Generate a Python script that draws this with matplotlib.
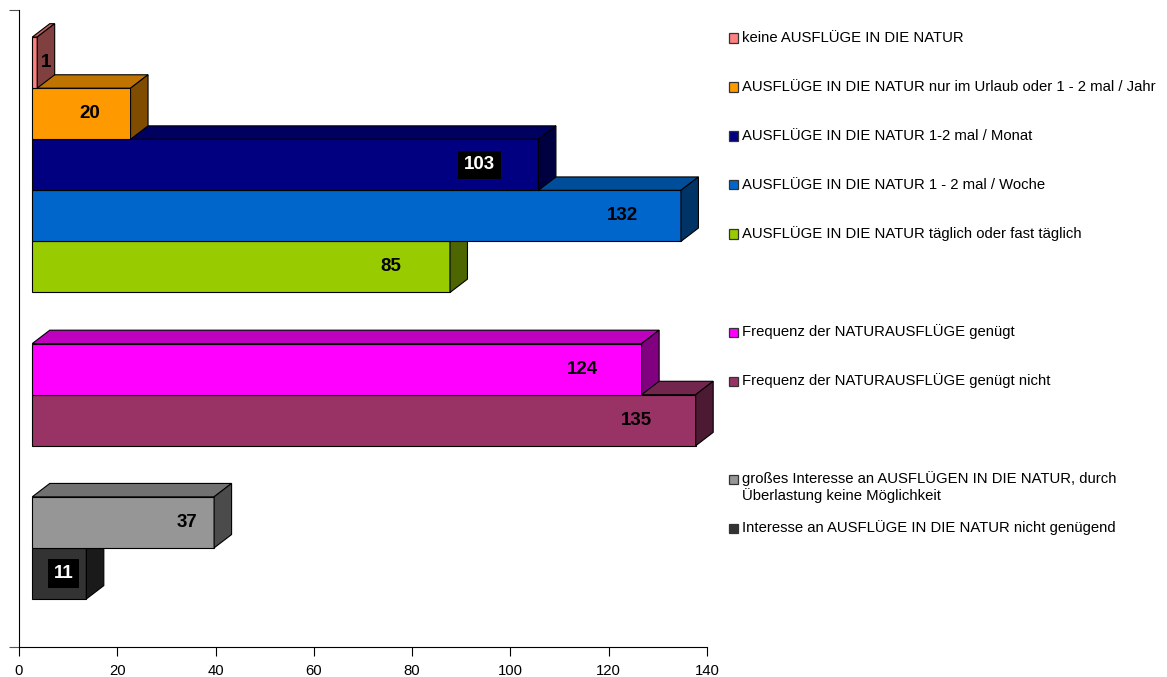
import matplotlib
matplotlib.use("Agg")
import matplotlib.pyplot as plt
import matplotlib.colors as mcolors
from matplotlib.patches import Polygon, Rectangle

# Survey answers on trips into nature
series_labels = [
    "keine AUSFLÜGE IN DIE NATUR",
    "AUSFLÜGE IN DIE NATUR nur im Urlaub oder 1 - 2 mal / Jahr",
    "AUSFLÜGE IN DIE NATUR 1-2 mal / Monat",
    "AUSFLÜGE IN DIE NATUR 1 - 2 mal / Woche",
    "AUSFLÜGE IN DIE NATUR täglich oder fast täglich",
    "Frequenz der NATURAUSFLÜGE genügt",
    "Frequenz der NATURAUSFLÜGE genügt nicht",
    "großes Interesse an AUSFLÜGEN IN DIE NATUR, durch\nÜberlastung keine Möglichkeit",
    "Interesse an AUSFLÜGE IN DIE NATUR nicht genügend",
]
values = [1, 20, 103, 132, 85, 124, 135, 37, 11]
face_colors = ["#FF8080", "#FF9900", "#000080", "#0066CC", "#99CC00",
               "#FF00FF", "#993366", "#969696", "#333333"]
group_sizes = [5, 2, 2]
x_ticks = [0, 20, 40, 60, 80, 100, 120, 140]

W, H = 1167, 677
plt.rcParams["font.family"] = ["Liberation Sans", "DejaVu Sans"]

fig = plt.figure(figsize=(W / 100, H / 100), dpi=100)
ax_l, ax_r, ax_t, ax_b = 19, 707, 10, 647
ax = fig.add_axes([ax_l / W, 1 - ax_b / H, (ax_r - ax_l) / W, (ax_b - ax_t) / H])

# one slot per bar, one empty slot between groups
slots = []
s = 0
for g in group_sizes:
    for _ in range(g):
        slots.append(s)
        s += 1
    s += 1
y_bottom = slots[-1] + 1.94
y_top = -0.53

ax.set_xlim(0, 140)
ax.set_ylim(y_bottom, y_top)

X0 = 2.7      # front face start
DX = 3.56     # depth, x direction (data units)
DY = 0.262    # depth, y direction (slots)


def shade(c, f):
    r, g, b = mcolors.to_rgb(c)
    return (r * f, g * f, b * f)


ekw = dict(edgecolor="black", linewidth=0.8, joinstyle="miter", clip_on=False)
n = len(values)
for rank, i in enumerate(range(n - 1, -1, -1)):
    v, c, y = values[i], face_colors[i], slots[i]
    z = 2 + rank * 0.1
    x1 = X0 + v
    front = Rectangle((X0, y), v, 1, facecolor=c, zorder=z, **ekw)
    top = Polygon([(X0, y), (x1, y), (x1 + DX, y - DY), (X0 + DX, y - DY)],
                  closed=True, facecolor=shade(c, 0.75), zorder=z, **ekw)
    side = Polygon([(x1, y), (x1, y + 1), (x1 + DX, y + 1 - DY), (x1 + DX, y - DY)],
                   closed=True, facecolor=shade(c, 0.5), zorder=z, **ekw)
    ax.add_patch(front)
    ax.add_patch(top)
    ax.add_patch(side)

# value labels, placed inside the bar end
for i, v in enumerate(values):
    if v < 5:
        lx = X0 + v + DX * 0.5
    elif v < 30:
        lx = X0 + 0.58 * v
    else:
        lx = X0 + v - min(12.0, 0.15 * v)
    r, g, b = mcolors.to_rgb(face_colors[i])
    dark = (0.299 * r + 0.587 * g + 0.114 * b) < 0.25
    kw = dict(ha="center", va="center", fontsize=13.5, fontweight="bold", zorder=10)
    if dark:
        ax.text(lx, slots[i] + 0.5, str(v), color="white",
                bbox=dict(boxstyle="square,pad=0.3", facecolor="black", edgecolor="none"), **kw)
    else:
        ax.text(lx, slots[i] + 0.5, str(v), color="black", **kw)

# axes styling
for sp in ("top", "right"):
    ax.spines[sp].set_visible(False)
for sp in ("left", "bottom"):
    ax.spines[sp].set_linewidth(0.8)
    ax.spines[sp].set_color("black")
ax.set_xticks(x_ticks)
ax.set_xticklabels([str(t) for t in x_ticks])
ax.tick_params(axis="x", direction="out", length=6.8, width=0.8, labelsize=10.7, pad=5.5)
ax.set_yticks([y_top, y_bottom])
ax.set_yticklabels([])
ax.tick_params(axis="y", direction="out", length=7.2, width=0.8, color="#555555")

# legend on the right, rows aligned to the bar slots
def fx(px):
    return px / W


def fy(py):
    return 1 - py / H


for i, lab in enumerate(series_labels):
    ycen = 38 + 49 * slots[i]
    fig.patches.append(Rectangle((fx(729), fy(ycen + 4.5)), 9 / W, 9 / H,
                                 transform=fig.transFigure, facecolor=face_colors[i],
                                 edgecolor="#333333", linewidth=0.9))
    for j, line in enumerate(lab.split("\n")):
        fig.text(fx(742), fy(ycen + j * 16.7), line, ha="left", va="center",
                 fontsize=10.7, color="black")

fig.savefig("out.png", dpi=100)
